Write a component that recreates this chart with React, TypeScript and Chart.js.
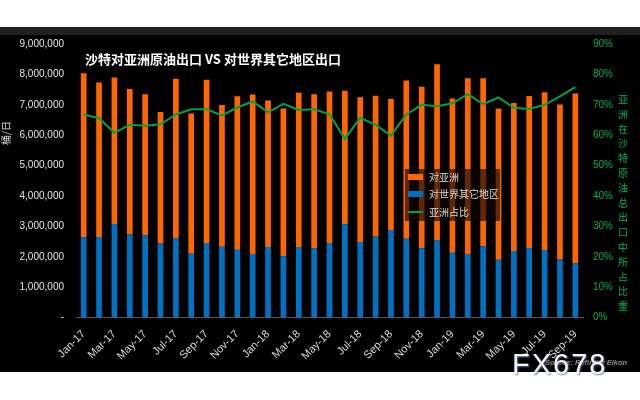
import React, { useEffect, useRef } from "react";
import { Chart, registerables } from "chart.js";

Chart.register(...registerables);

const months = [
  "Jan-17", "Feb-17", "Mar-17", "Apr-17", "May-17", "Jun-17", "Jul-17", "Aug-17", "Sep-17", "Oct-17", "Nov-17", "Dec-17",
  "Jan-18", "Feb-18", "Mar-18", "Apr-18", "May-18", "Jun-18", "Jul-18", "Aug-18", "Sep-18", "Oct-18", "Nov-18", "Dec-18",
  "Jan-19", "Feb-19", "Mar-19", "Apr-19", "May-19", "Jun-19", "Jul-19", "Aug-19", "Sep-19",
];

// barrels per day to Asia
const toAsia = [
  5400000, 5080000, 4820000, 4790000, 4650000, 4320000, 5260000, 4610000, 5370000, 4660000, 5050000, 5250000,
  4820000, 4860000, 5080000, 5080000, 4990000, 4390000, 4760000, 4630000, 4310000, 5210000, 5310000, 5790000,
  5080000, 5780000, 5520000, 4980000, 4870000, 5000000, 5190000, 5100000, 5590000,
];

// barrels per day to the rest of the world
const toOthers = [
  2640000, 2650000, 3080000, 2730000, 2700000, 2440000, 2600000, 2100000, 2450000, 2330000, 2230000, 2090000,
  2320000, 2020000, 2320000, 2270000, 2450000, 3070000, 2490000, 2670000, 2880000, 2590000, 2280000, 2540000,
  2130000, 2090000, 2350000, 1900000, 2190000, 2290000, 2220000, 1910000, 1780000,
];

// Asia share of total exports (%)
const asiaShare = [
  66.8, 65.6, 60.8, 63.4, 63.1, 63.6, 66.8, 68.5, 68.5, 66.5, 69.1, 71.1,
  67.5, 70.3, 68.3, 68.5, 66.9, 58.8, 65.7, 63.4, 59.9, 66.8, 70.0, 69.5,
  70.5, 73.5, 70.2, 72.4, 69.0, 68.6, 70.0, 72.8, 75.8,
];

const seriesNames = ["对亚洲", "对世界其它地区", "亚洲占比"];
const chartTitle = "沙特对亚洲原油出口 VS 对世界其它地区出口";
const leftAxisTitle = "桶/日";
const rightAxisTitle = "亚洲在沙特原油总出口中所占比重";
const sourceText = "Source: Refinitiv Eikon";
const watermark = "FX678";

const ORANGE = "#ff6600";
const BLUE = "#0070c0";
const LINE_GREEN = "#00a046";
const AXIS_GREEN = "#00b050";
const CJK = "'Noto Sans CJK SC', 'Liberation Sans', sans-serif";

export default function App() {
  const canvasRef = useRef<HTMLCanvasElement | null>(null);

  useEffect(() => {
    const canvas = canvasRef.current;
    if (!canvas) return;
    Chart.defaults.font.family = "'Liberation Sans', Arial, sans-serif";
    const chart = new Chart(canvas, {
      type: "bar",
      data: {
        labels: months,
        datasets: [
          {
            type: "bar",
            label: seriesNames[1],
            data: toOthers,
            backgroundColor: BLUE,
            borderWidth: 0,
            yAxisID: "y",
            stack: "s",
            barPercentage: 0.37,
            categoryPercentage: 1,
          },
          {
            type: "bar",
            label: seriesNames[0],
            data: toAsia,
            backgroundColor: ORANGE,
            borderWidth: 0,
            yAxisID: "y",
            stack: "s",
            barPercentage: 0.37,
            categoryPercentage: 1,
          },
          {
            type: "line",
            label: seriesNames[2],
            data: asiaShare,
            borderColor: LINE_GREEN,
            backgroundColor: LINE_GREEN,
            borderWidth: 2,
            pointRadius: 0,
            tension: 0,
            yAxisID: "y1",
            order: -1,
          },
        ],
      },
      options: {
        responsive: false,
        animation: false,
        layout: { padding: { top: 44, left: 0, right: 0, bottom: 0 } },
        plugins: {
          legend: { display: false },
          tooltip: { enabled: false },
          title: { display: false },
        },
        scales: {
          x: {
            stacked: true,
            offset: true,
            grid: { display: false, drawTicks: false },
            border: { display: true, color: "#595959", width: 1 },
            ticks: {
              autoSkip: false,
              minRotation: 45,
              maxRotation: 45,
              padding: 10,
              color: "#d9d9d9",
              font: { size: 11 },
              callback: (_v: any, i: number) => (i % 2 === 0 ? months[i] : ""),
            },
            afterFit: (s: any) => {
              s.height = 82.4;
            },
          },
          y: {
            position: "left",
            stacked: true,
            min: 0,
            max: 9000000,
            grid: { display: false, drawTicks: false },
            border: { display: false },
            ticks: {
              stepSize: 1000000,
              padding: 12,
              color: "#e6e6e6",
              font: { size: 10 },
              callback: (v: any) => (Number(v) === 0 ? "-" : Number(v).toLocaleString("en-US")),
            },
            afterFit: (s: any) => {
              s.width = 76;
            },
          },
          y1: {
            position: "right",
            min: 0,
            max: 90,
            grid: { display: false, drawTicks: false },
            border: { display: false },
            ticks: {
              stepSize: 10,
              padding: 10,
              color: AXIS_GREEN,
              font: { size: 10 },
              callback: (v: any) => `${v}%`,
            },
            afterFit: (s: any) => {
              s.width = 57;
            },
          },
        },
      },
    });
    return () => chart.destroy();
  }, []);

  const abs = (o: React.CSSProperties): React.CSSProperties => ({ position: "absolute", ...o });

  return (
    <div style={abs({ left: 0, top: 0, width: 640, height: 400, background: "#ffffff", overflow: "hidden" })}>
      <div style={abs({ left: 0, top: 27, width: 640, height: 345, background: "#000000" })} />
      <div style={abs({ left: 0, top: 27, width: 640, height: 8, background: "#202020" })} />
      <canvas ref={canvasRef} width={640} height={400} style={abs({ left: 0, top: 0, width: 640, height: 400 })} />

      <div
        style={abs({
          left: 85,
          top: 50,
          color: "#ffffff",
          fontFamily: CJK,
          fontWeight: 700,
          fontSize: 13,
          lineHeight: "18px",
          whiteSpace: "nowrap",
        })}
      >
        {chartTitle}
      </div>

      <div
        style={abs({
          left: -12,
          top: 126,
          width: 36,
          height: 14,
          color: "#d9d9d9",
          fontFamily: CJK,
          fontSize: 10,
          lineHeight: "14px",
          textAlign: "center",
          transform: "rotate(-90deg)",
          whiteSpace: "nowrap",
        })}
      >
        {leftAxisTitle}
      </div>

      <div style={abs({ left: 616, top: 92, width: 14, display: "flex", flexDirection: "column", alignItems: "center" })}>
        {Array.from(rightAxisTitle).map((ch, i) => (
          <span
            key={i}
            style={{ color: AXIS_GREEN, fontFamily: CJK, fontSize: 10, lineHeight: "14.8px", height: 14.8, display: "block" }}
          >
            {ch}
          </span>
        ))}
      </div>

      <div style={abs({ left: 405, top: 169, width: 95, height: 52, background: "rgba(15,8,3,0.66)" })}>
        <div style={abs({ left: 3, top: 5, width: 15, height: 6, background: ORANGE })} />
        <div style={abs({ left: 24, top: 0, color: "#d9d9d9", fontFamily: CJK, fontSize: 10, lineHeight: "16px", whiteSpace: "nowrap" })}>
          {seriesNames[0]}
        </div>
        <div style={abs({ left: 3, top: 22, width: 15, height: 6, background: BLUE })} />
        <div style={abs({ left: 24, top: 17, color: "#d9d9d9", fontFamily: CJK, fontSize: 10, lineHeight: "16px", whiteSpace: "nowrap" })}>
          {seriesNames[1]}
        </div>
        <div style={abs({ left: 3, top: 42, width: 15, height: 2, background: LINE_GREEN })} />
        <div style={abs({ left: 24, top: 35, color: "#d9d9d9", fontFamily: CJK, fontSize: 10, lineHeight: "16px", whiteSpace: "nowrap" })}>
          {seriesNames[2]}
        </div>
      </div>

      <div
        style={abs({
          left: 545,
          top: 358,
          color: "#8c8c8c",
          fontFamily: "'Liberation Sans', Arial, sans-serif",
          fontStyle: "italic",
          fontWeight: 700,
          fontSize: 7.5,
          lineHeight: "10px",
          whiteSpace: "nowrap",
        })}
      >
        {sourceText}
      </div>
      <div
        style={abs({
          left: 512,
          top: 349,
          color: "#f2f5f9",
          fontFamily: "'Liberation Sans', Arial, sans-serif",
          fontSize: 29,
          lineHeight: "30px",
          letterSpacing: 2,
          whiteSpace: "nowrap",
          textShadow: "1px 1px 2px rgba(90,110,150,0.9)",
        })}
      >
        {watermark}
      </div>
    </div>
  );
}
